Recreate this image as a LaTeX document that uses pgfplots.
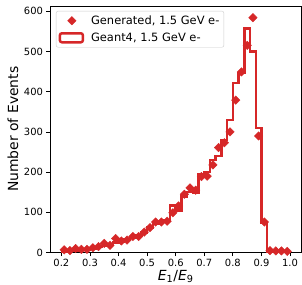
\documentclass[border=0pt]{standalone}
\usepackage{fontspec}
\setmainfont{DejaVu Sans}
\usepackage{pgfplots}
\usepackage{pgfplotstable}
\pgfplotsset{compat=1.18}
\definecolor{tabred}{HTML}{D62728}

\pgfplotsset{
  diamondlegend/.style={legend image code/.code={\draw[##1, mark repeat=1] plot coordinates {(12bp,0bp)};}},
  rectlegend/.style={legend image code/.code={\draw[tabred, line width=2.5bp] (0bp,-4.5bp) rectangle (23bp,4.5bp);}},
}

% Geant4 histogram: left bin edge, count
\pgfplotstableread{
edge count
0.20 3
0.22 4
0.24 5
0.26 6
0.28 7
0.30 9
0.32 14
0.34 17
0.36 20
0.38 25
0.40 28
0.42 32
0.44 38
0.46 42
0.48 50
0.50 62
0.52 72
0.54 78
0.56 80
0.58 117
0.60 105
0.62 140
0.64 150
0.66 148
0.68 195
0.70 200
0.72 230
0.74 240
0.76 280
0.78 330
0.80 422
0.82 447
0.84 557
0.86 500
0.88 310
0.90 75
0.92 2
0.94 1
0.96 1
0.98 1
1.00 0
}\geantdata

% Generated: bin centre, count
\pgfplotstableread{
x y
0.21 7
0.23 5
0.25 10
0.27 8
0.29 8
0.31 12
0.33 15
0.35 23
0.37 18
0.39 35
0.41 29
0.43 31
0.45 40
0.47 40
0.49 51
0.51 62
0.53 76
0.55 76
0.57 78
0.59 99
0.61 116
0.63 145
0.65 161
0.67 155
0.69 189
0.71 190
0.73 218
0.75 261
0.77 273
0.79 300
0.81 379
0.83 449
0.85 515
0.87 584
0.89 290
0.91 76
0.93 5
0.95 4
0.97 4
0.99 3
}\gendata

\begin{document}
\begin{tikzpicture}
\begin{axis}[
  scale only axis,
  width=252bp, height=247bp,
  xmin=0.16, xmax=1.04,
  ymin=0, ymax=613,
  xtick={0.2,0.3,...,1.0},
  ytick={0,100,...,600},
  xticklabel style={/pgf/number format/.cd, fixed, fixed zerofill, precision=1},
  /pgf/number format/assume math mode=true,
  tick label style={font=\fontsize{10}{12}\selectfont},
  tick align=outside,
  tick pos=left,
  major tick length=3.5bp,
  every tick/.style={black, line width=0.8bp},
  axis line style={line width=0.8bp},
  xlabel={\fontsize{14}{16}\selectfont\textit{E}\textsubscript{1}/\textit{E}\textsubscript{9}},
  ylabel={\fontsize{14}{16}\selectfont Number of Events},
  xlabel style={at={(axis description cs:0.5,-0.097)}, anchor=center},
  ylabel style={at={(axis description cs:-0.147,0.5)}, anchor=center},
  legend style={at={(axis description cs:0.024,0.98)}, anchor=north west,
    draw=black!20, rounded corners=2bp, fill=white,
    font=\fontsize{11.5}{13.5}\selectfont, inner sep=2.5bp, row sep=3bp,
    column sep=5bp, nodes={inner sep=2bp}},
  legend cell align=left,
  reverse legend,
]
\addplot[const plot, draw=tabred, line width=2.5bp, line join=miter, rectlegend]
  table[x=edge, y=count] {\geantdata};
\addlegendentry{Geant4, 1.5 GeV e-}
\addplot[only marks, mark=square*, mark size=3bp, color=tabred,
  mark options={rotate=45, draw=tabred, fill=tabred}, diamondlegend]
  table[x=x, y=y] {\gendata};
\addlegendentry{Generated, 1.5 GeV e-}
\end{axis}
\pgfresetboundingbox
\path ([shift={(-50bp,-32bp)}]current axis.south west) rectangle ([shift={(0.5bp,6bp)}]current axis.north east);
\end{tikzpicture}
\end{document}
